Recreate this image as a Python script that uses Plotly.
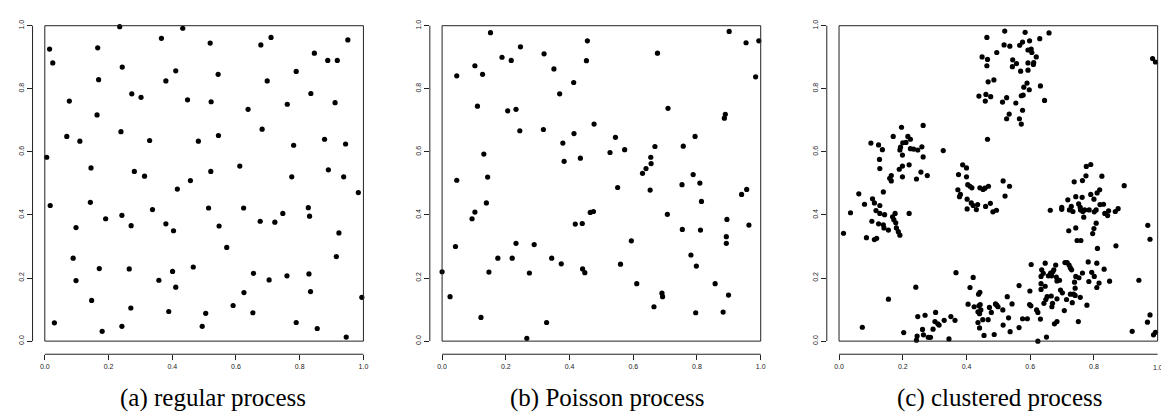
import plotly.graph_objects as go

# ---------------- data ----------------
a_x = [0.235,0.433,0.015,0.025,0.166,0.366,0.519,0.678,0.710,0.951,0.846,0.888,0.918,0.243,0.411,0.169,0.380,0.544,0.698,0.789,
       0.077,0.273,0.302,0.448,0.522,0.761,0.835,0.911,0.164,0.638,0.069,0.110,0.239,0.329,0.482,0.545,0.682,0.781,0.878,0.944,
       0.006,0.145,0.281,0.313,0.457,0.521,0.612,0.775,0.890,0.938,0.416,0.984,0.017,0.143,0.338,0.514,0.624,0.827,0.191,0.242,
       0.098,0.271,0.380,0.404,0.547,0.676,0.722,0.747,0.831,0.923,0.571,0.915,0.089,0.171,0.265,0.401,0.466,0.098,0.358,0.411,
       0.655,0.704,0.760,0.829,0.834,0.625,0.147,0.270,0.389,0.505,0.591,0.653,0.995,0.030,0.180,0.242,0.494,0.789,0.855,0.946]
a_y = [0.997,0.992,0.926,0.882,0.930,0.960,0.945,0.939,0.963,0.955,0.913,0.890,0.890,0.869,0.857,0.829,0.825,0.846,0.825,0.855,
       0.761,0.784,0.773,0.765,0.759,0.751,0.785,0.756,0.717,0.735,0.649,0.634,0.664,0.636,0.634,0.652,0.672,0.621,0.640,0.625,
       0.583,0.549,0.538,0.523,0.509,0.538,0.555,0.521,0.543,0.521,0.482,0.471,0.430,0.440,0.417,0.422,0.422,0.423,0.388,0.399,
       0.360,0.366,0.372,0.350,0.365,0.380,0.377,0.405,0.396,0.343,0.297,0.268,0.263,0.230,0.229,0.221,0.235,0.192,0.193,0.171,
       0.215,0.194,0.207,0.213,0.157,0.154,0.129,0.105,0.094,0.088,0.113,0.090,0.139,0.058,0.031,0.047,0.047,0.059,0.040,0.013]

b_x = [0.152,0.901,0.954,0.994,0.456,0.246,0.320,0.676,0.188,0.217,0.453,0.103,0.351,0.046,0.127,0.984,0.413,0.369,0.111,0.206,
       0.232,0.709,0.889,0.886,0.244,0.318,0.477,0.414,0.379,0.544,0.794,0.668,0.757,0.131,0.383,0.434,0.527,0.573,0.655,0.656,
       0.640,0.629,0.046,0.143,0.788,0.809,0.551,0.653,0.753,0.940,0.956,0.814,0.139,0.103,0.094,0.465,0.475,0.418,0.440,0.707,
       0.894,0.963,0.754,0.811,0.892,0.892,0.594,0.042,0.232,0.289,0.175,0.220,0.344,0.374,0.560,0.781,0.798,0.000,0.147,0.274,
       0.441,0.448,0.611,0.857,0.690,0.692,0.899,0.025,0.665,0.796,0.882,0.122,0.328,0.266]
b_y = [0.978,0.982,0.946,0.952,0.952,0.933,0.911,0.913,0.900,0.890,0.889,0.873,0.863,0.841,0.846,0.838,0.820,0.784,0.745,0.730,
       0.735,0.738,0.719,0.707,0.667,0.671,0.688,0.658,0.628,0.646,0.649,0.617,0.618,0.593,0.570,0.580,0.598,0.607,0.583,0.563,
       0.547,0.532,0.510,0.520,0.528,0.501,0.487,0.479,0.496,0.465,0.481,0.443,0.438,0.409,0.388,0.408,0.411,0.371,0.373,0.402,
       0.386,0.368,0.354,0.352,0.331,0.310,0.318,0.300,0.310,0.306,0.263,0.263,0.263,0.245,0.244,0.273,0.238,0.220,0.219,0.216,
       0.229,0.217,0.182,0.182,0.152,0.141,0.146,0.141,0.109,0.090,0.092,0.075,0.059,0.009]

c_x = [0.520,0.584,0.659,0.464,0.630,0.598,0.518,0.536,0.567,0.576,0.495,0.593,0.603,0.605,0.449,0.466,0.619,0.545,0.464,0.557,
       0.544,0.593,0.611,0.610,0.570,0.593,0.468,0.486,0.590,0.580,0.597,0.632,0.439,0.461,0.476,0.459,0.513,0.526,0.572,0.578,
       0.555,0.645,0.576,0.534,0.526,0.566,0.572,0.466,0.327,0.995,0.995,0.984,0.993,
       0.196,0.264,0.170,0.216,0.224,0.100,0.124,0.136,0.200,0.210,0.193,0.191,0.224,0.234,0.247,0.260,0.264,0.199,0.127,0.128,
       0.199,0.220,0.189,0.257,0.277,0.243,0.199,0.164,0.159,0.164,0.139,0.062,0.105,0.111,0.080,0.128,0.116,0.128,0.143,0.036,
       0.176,0.168,0.220,0.172,0.103,0.124,0.139,0.141,0.155,0.178,0.180,0.186,0.191,0.014,0.086,0.111,0.118,
       0.388,0.400,0.375,0.400,0.515,0.535,0.404,0.411,0.417,0.442,0.452,0.458,0.469,0.373,0.381,0.378,0.521,0.402,0.415,0.421,
       0.435,0.460,0.475,0.402,0.431,0.483,0.494,
       0.776,0.790,0.775,0.825,0.738,0.764,0.895,0.818,0.810,0.790,0.743,0.763,0.718,0.800,0.752,0.819,0.830,0.729,0.757,0.699,
       0.699,0.663,0.723,0.734,0.758,0.765,0.771,0.785,0.801,0.807,0.834,0.843,0.846,0.867,0.876,0.768,0.807,0.800,0.743,0.721,
       0.796,0.747,0.759,0.811,0.869,0.969,0.976,
       0.367,0.241,0.421,0.411,0.438,0.442,0.405,0.424,0.439,0.443,0.436,0.441,0.445,0.436,0.451,0.468,0.441,0.455,0.487,0.472,
       0.478,0.491,0.495,0.499,0.514,0.528,0.543,0.515,0.532,0.537,0.565,0.565,0.576,0.591,0.599,0.603,0.598,0.602,0.620,0.624,
       0.632,0.624,0.651,0.647,0.636,0.641,0.634,0.634,0.647,0.634,0.664,0.667,0.671,0.657,0.674,0.680,0.682,0.684,0.692,0.653,
       0.666,0.649,0.670,0.668,0.643,0.684,0.695,0.701,0.714,0.709,0.716,0.722,0.726,0.730,0.739,0.743,0.726,0.736,0.741,0.732,
       0.741,0.707,0.757,0.753,0.764,0.784,0.778,0.782,0.793,0.809,0.801,0.816,0.809,0.832,0.849,0.751,0.676,0.684,
       0.203,0.245,0.243,0.247,0.270,0.262,0.265,0.280,0.287,0.295,0.303,0.301,0.310,0.314,0.330,0.351,0.364,0.345,
       0.920,0.941,0.968,0.976,0.987,0.993,0.155,0.073]
c_y = [0.983,0.979,0.977,0.963,0.959,0.952,0.939,0.935,0.938,0.948,0.915,0.923,0.926,0.915,0.901,0.893,0.901,0.892,0.873,0.880,
       0.870,0.882,0.883,0.877,0.856,0.859,0.822,0.828,0.818,0.805,0.797,0.809,0.777,0.782,0.775,0.761,0.758,0.772,0.778,0.780,
       0.755,0.763,0.732,0.720,0.705,0.705,0.688,0.640,0.604,0.943,0.927,0.896,0.885,
       0.678,0.684,0.649,0.649,0.640,0.628,0.622,0.607,0.629,0.630,0.615,0.606,0.610,0.609,0.606,0.616,0.584,0.590,0.576,0.547,
       0.555,0.559,0.545,0.536,0.525,0.514,0.521,0.525,0.516,0.508,0.473,0.467,0.451,0.438,0.434,0.430,0.414,0.405,0.401,0.407,
       0.405,0.394,0.405,0.385,0.380,0.372,0.369,0.359,0.352,0.375,0.359,0.347,0.336,0.342,0.328,0.322,0.326,
       0.559,0.549,0.528,0.521,0.508,0.491,0.496,0.491,0.486,0.486,0.481,0.485,0.491,0.480,0.465,0.458,0.460,0.450,0.438,0.430,
       0.433,0.427,0.437,0.419,0.417,0.410,0.415,
       0.554,0.560,0.524,0.523,0.505,0.509,0.493,0.480,0.470,0.465,0.458,0.456,0.448,0.450,0.435,0.433,0.434,0.427,0.424,0.424,
       0.418,0.415,0.416,0.411,0.416,0.411,0.416,0.416,0.410,0.416,0.405,0.398,0.413,0.411,0.420,0.393,0.374,0.357,0.359,0.350,
       0.341,0.319,0.319,0.294,0.302,0.367,0.323,
       0.217,0.171,0.202,0.170,0.149,0.155,0.117,0.109,0.112,0.116,0.093,0.087,0.099,0.059,0.068,0.068,0.042,0.018,0.021,0.107,
       0.091,0.118,0.114,0.109,0.099,0.141,0.118,0.051,0.074,0.030,0.176,0.043,0.071,0.071,0.159,0.243,0.116,0.112,0.099,0.091,
       0.070,0.000,0.013,0.247,0.226,0.215,0.205,0.182,0.174,0.164,0.216,0.207,0.220,0.207,0.226,0.241,0.203,0.191,0.193,0.141,
       0.143,0.132,0.120,0.109,0.120,0.134,0.162,0.153,0.132,0.249,0.249,0.241,0.232,0.226,0.187,0.205,0.149,0.149,0.145,0.122,
       0.168,0.097,0.139,0.201,0.216,0.189,0.114,0.251,0.218,0.247,0.205,0.184,0.170,0.228,0.190,0.062,0.055,0.062,
       0.027,0.016,0.003,0.078,0.082,0.037,0.020,0.012,0.012,0.038,0.091,0.062,0.055,0.051,0.066,0.078,0.066,0.007,
       0.031,0.193,0.060,0.083,0.020,0.028,0.133,0.044]

tick_vals = [0.0, 0.2, 0.4, 0.6, 0.8, 1.0]
tick_text = ["0.0", "0.2", "0.4", "0.6", "0.8", "1.0"]
captions = ["(a) regular process", "(b) Poisson process", "(c) clustered process"]

# ---------------- layout geometry (pixels) ----------------
W, H = 1161, 419
lefts = [45.0, 444.0, 842.67]   # left edge of each plot box
S = 320.0                      # box size
top = 20.0                     # top of boxes
x_gap = 13.3                   # R-style detached x axis below box
y_gap = 12.3                   # R-style detached y axis left of box
cap_cx = [214.0, 610.0, 1004.0]
cap_py = 398.0

def px(v):
    return v / W

def py(v):
    return 1 - v / H

fig = go.Figure()
series = [(a_x, a_y), (b_x, b_y), (c_x, c_y)]
tickfont = dict(family="Liberation Sans, Arial, sans-serif", size=7, color="#222")
line_col = "#222"
shapes = []
annotations = []
for i, (xs, ys) in enumerate(series):
    n = "" if i == 0 else str(i + 1)
    fig.add_trace(go.Scatter(x=xs, y=ys, mode="markers", xaxis="x" + n, yaxis="y" + n,
                             marker=dict(color="black", size=5.2, line=dict(width=0)),
                             cliponaxis=False, showlegend=False, hoverinfo="skip"))
    L = lefts[i]
    R = L + S
    bottom = top + S
    # extend the subplot domain so that its edges sit where R draws the axes
    dom_x0 = L - y_gap
    dom_x1 = min(R, W)
    dom_y0 = bottom + x_gap
    fig.update_layout(**{
        "xaxis" + n: dict(domain=[px(dom_x0), px(dom_x1)],
                          range=[(dom_x0 - L) / S, (dom_x1 - L) / S],
                          anchor="y" + n, side="bottom",
                          showline=False, ticks="outside", ticklen=5,
                          tickwidth=1, tickcolor=line_col, tickvals=tick_vals, ticktext=tick_text,
                          showgrid=False, zeroline=False, tickfont=tickfont, fixedrange=True),
        "yaxis" + n: dict(domain=[py(dom_y0), py(top)],
                          range=[-(dom_y0 - bottom) / S, 1],
                          anchor="x" + n, side="left",
                          showline=False, ticks="outside", ticklen=5,
                          tickwidth=1, tickcolor=line_col, tickvals=tick_vals, ticktext=tick_text,
                          tickangle=-90, showgrid=False, zeroline=False, tickfont=tickfont, fixedrange=True),
    })
    # plot box
    shapes.append(dict(type="rect", xref="paper", yref="paper", x0=px(L), x1=px(R),
                       y0=py(bottom), y1=py(top), line=dict(color=line_col, width=1)))
    # detached axis lines spanning 0..1
    shapes.append(dict(type="line", xref="paper", yref="paper", x0=px(L), x1=px(R),
                       y0=py(dom_y0), y1=py(dom_y0), line=dict(color=line_col, width=1)))
    shapes.append(dict(type="line", xref="paper", yref="paper", x0=px(dom_x0), x1=px(dom_x0),
                       y0=py(bottom), y1=py(top), line=dict(color=line_col, width=1)))
    annotations.append(dict(text=captions[i], xref="paper", yref="paper", x=px(cap_cx[i]), y=py(cap_py),
                            showarrow=False, xanchor="center", yanchor="middle",
                            font=dict(family="Liberation Serif, Times New Roman, serif", size=25, color="black")))

# tick at 1.0 of panel (c) lies just beyond the page edge; its label is partly visible
annotations.append(dict(text="1.0", xref="paper", yref="paper", x=px(lefts[2] + S), y=py(top + S + x_gap + 8),
                        showarrow=False, xanchor="center", yanchor="top", font=tickfont))

fig.update_layout(width=W, height=H, margin=dict(l=0, r=0, t=0, b=0),
                  paper_bgcolor="white", plot_bgcolor="white",
                  shapes=shapes, annotations=annotations)
fig.write_html("out.html", config={"displayModeBar": False})
